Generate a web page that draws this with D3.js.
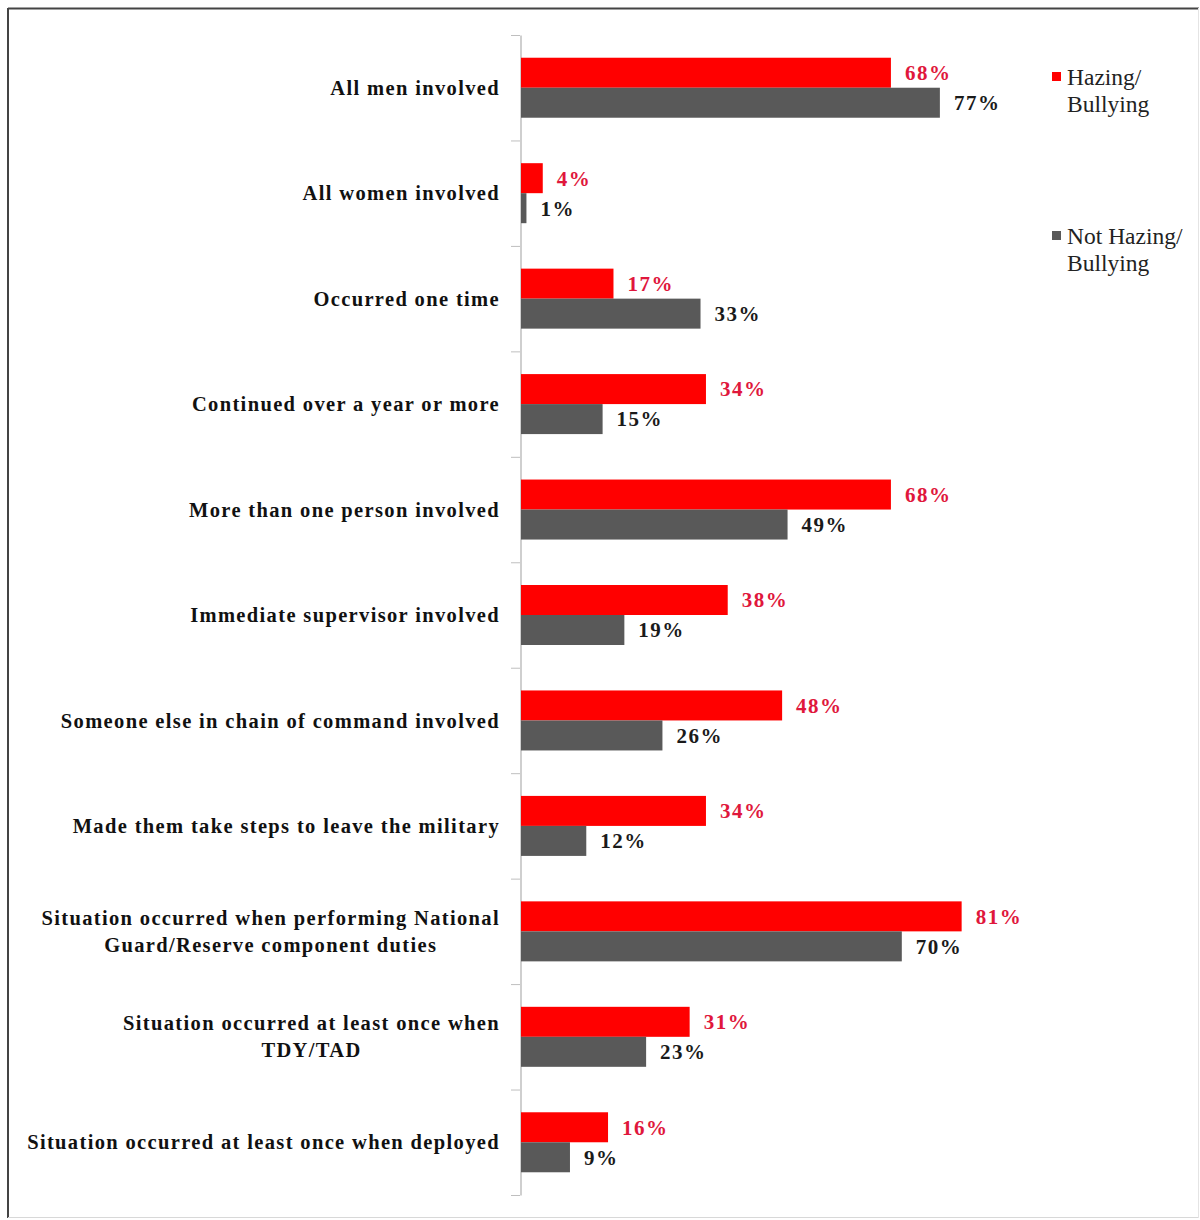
<!DOCTYPE html>
<html>
<head>
<meta charset="utf-8">
<script src="https://cdn.jsdelivr.net/npm/d3@7/dist/d3.min.js"></script>
<style>
html,body{margin:0;padding:0;background:#fff;}
svg{display:block;}
</style>
</head>
<body>
<svg id="chart" width="1200" height="1220"></svg>
<script>
const categories = [
  ["All men involved"],
  ["All women involved"],
  ["Occurred one time"],
  ["Continued over a year or more"],
  ["More than one person involved"],
  ["Immediate supervisor involved"],
  ["Someone else in chain of command involved"],
  ["Made them take steps to leave the military"],
  ["Situation occurred when performing National", "Guard/Reserve component duties"],
  ["Situation occurred at least once when", "TDY/TAD"],
  ["Situation occurred at least once when deployed"]
];
const hazing = [68, 4, 17, 34, 68, 38, 48, 34, 81, 31, 16];
const notHazing = [77, 1, 33, 15, 49, 19, 26, 12, 70, 23, 9];
const seriesNames = [["Hazing/", "Bullying"], ["Not Hazing/", "Bullying"]];
const colors = ["#ff0000", "#595959"];
const labelColors = ["#e0173c", "#1a1a1a"];

const svg = d3.select("#chart");
const keys = categories.map((c, i) => i);
const serif = "'Liberation Serif', 'Times New Roman', serif";

// frame
svg.append("line").attr("x1", 8).attr("x2", 1199).attr("y1", 8.5).attr("y2", 8.5).attr("stroke", "#444").attr("stroke-width", 2);
svg.append("line").attr("x1", 8).attr("x2", 8).attr("y1", 8).attr("y2", 1218).attr("stroke", "#444").attr("stroke-width", 2);
svg.append("line").attr("x1", 8).attr("x2", 1199).attr("y1", 1217.5).attr("y2", 1217.5).attr("stroke", "#d8d8d8").attr("stroke-width", 1);
svg.append("line").attr("x1", 1198.5).attr("x2", 1198.5).attr("y1", 8).attr("y2", 1218).attr("stroke", "#e4e4e4").attr("stroke-width", 1);

const y = d3.scaleBand().domain(keys).range([35, 1195]).paddingInner(0).paddingOuter(0);
const x = d3.scaleLinear().domain([0, 100]).range([521, 1065]);
const barH = 30;

// axis line and ticks
const axis = d3.axisLeft(y).tickSize(0).tickFormat("");
const ag = svg.append("g").attr("transform", "translate(520.5,0)").call(axis);
ag.select(".domain").attr("stroke", "#bfbfbf").attr("stroke-width", 1.5);
const bounds = keys.map(k => y(k)).concat([y(keys[keys.length - 1]) + y.bandwidth()]);
svg.append("g").selectAll("line").data(bounds).join("line")
  .attr("x1", 511).attr("x2", 520).attr("y1", d => d + 0.5).attr("y2", d => d + 0.5)
  .attr("stroke", "#bfbfbf").attr("stroke-width", 1);

// category labels
const lab = svg.append("g");
categories.forEach((lines, i) => {
  const cy = y(i) + y.bandwidth() / 2;
  const t = lab.append("text")
    .attr("font-family", serif).attr("letter-spacing", 1.35)
    .attr("font-weight", "bold").attr("font-size", 20.5).attr("fill", "#111");
  if (lines.length === 1) {
    t.attr("x", 500).attr("y", cy).attr("dy", "0.35em").attr("text-anchor", "end").text(lines[0]);
  } else {
    t.attr("y", cy - 13.5).attr("dy", "0.35em");
    t.append("tspan").attr("x", 500).attr("text-anchor", "end").text(lines[0]);
    const w = t.node().getComputedTextLength();
    t.append("tspan").attr("x", 500 - w / 2).attr("dy", 27).attr("text-anchor", "middle").text(lines[1]);
  }
});

// bars
const series = [hazing, notHazing];
series.forEach((vals, s) => {
  const g = svg.append("g");
  g.selectAll("rect").data(vals).join("rect")
    .attr("x", x(0))
    .attr("y", (d, i) => y(i) + y.bandwidth() / 2 - barH + s * barH)
    .attr("width", d => x(d) - x(0))
    .attr("height", barH)
    .attr("fill", colors[s]);
  g.selectAll("text").data(vals).join("text")
    .attr("x", d => x(d) + 14)
    .attr("y", (d, i) => y(i) + y.bandwidth() / 2 - barH / 2 + s * barH)
    .attr("dy", "0.35em")
    .attr("font-family", serif).attr("letter-spacing", 1.5)
    .attr("font-weight", "bold").attr("font-size", 21)
    .attr("fill", labelColors[s])
    .text(d => d + "%");
});

// legend
const legY = [77, 236];
seriesNames.forEach((names, s) => {
  const g = svg.append("g");
  g.append("rect").attr("x", 1052).attr("y", legY[s] - 5).attr("width", 9).attr("height", 9).attr("fill", colors[s]);
  g.append("text").attr("x", 1067).attr("y", legY[s]).attr("dy", "0.35em")
    .attr("font-family", serif)
    .attr("font-size", 23.5).attr("fill", "#222").text(names[0]);
  g.append("text").attr("x", 1067).attr("y", legY[s] + 27).attr("dy", "0.35em")
    .attr("font-family", serif)
    .attr("font-size", 23.5).attr("fill", "#222").text(names[1]);
});
</script>
</body>
</html>
